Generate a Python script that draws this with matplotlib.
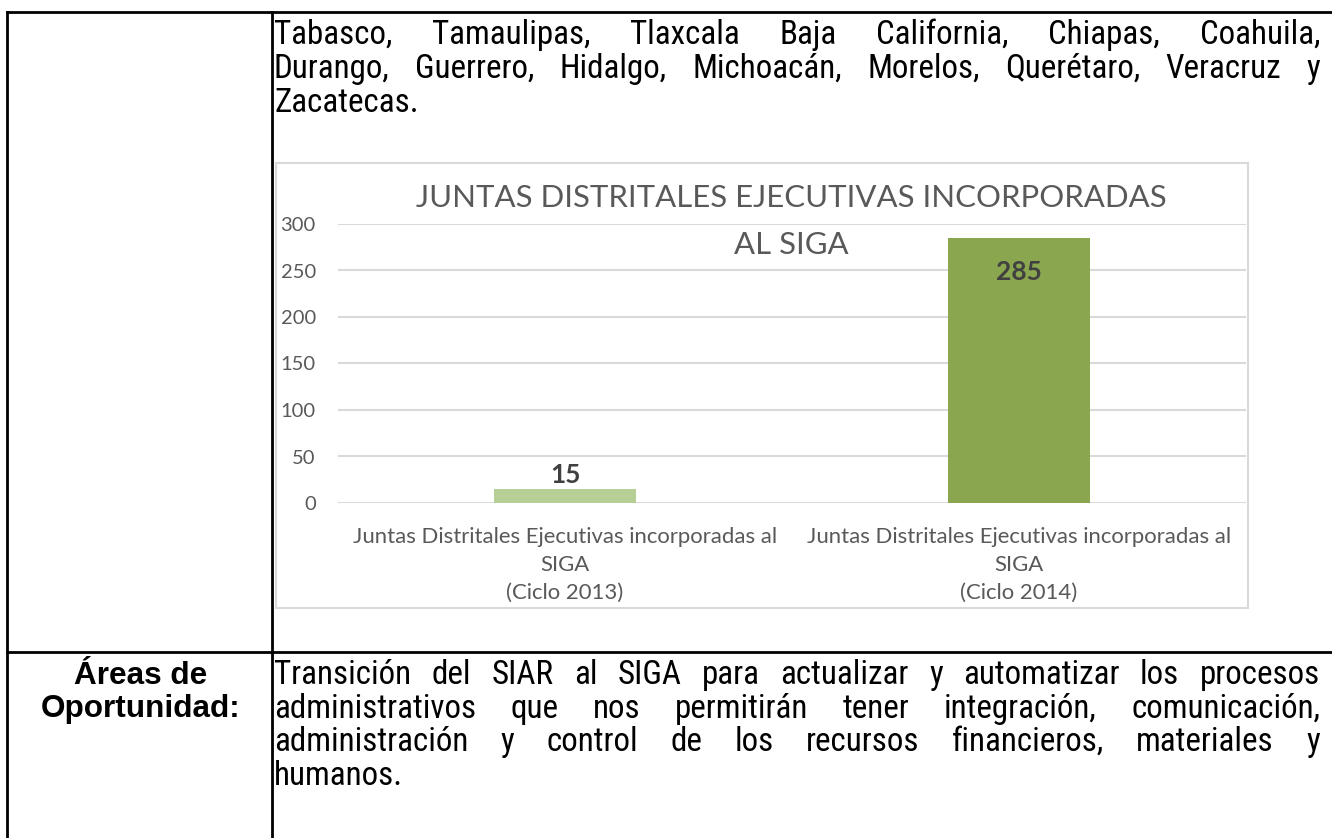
import matplotlib
matplotlib.use('Agg')
import matplotlib.pyplot as plt
from matplotlib import font_manager
from matplotlib.patches import Rectangle
from matplotlib.lines import Line2D

# text of the document table
top_lines = ['Tabasco, Tamaulipas, Tlaxcala Baja California, Chiapas, Coahuila,',
             'Durango, Guerrero, Hidalgo, Michoacán, Morelos, Querétaro, Veracruz y',
             'Zacatecas.']
side_label = ['Áreas de', 'Oportunidad:']
bottom_lines = ['Transición del SIAR al SIGA para actualizar y automatizar los procesos',
                'administrativos que nos permitirán tener integración, comunicación,',
                'administración y control de los recursos financieros, materiales y',
                'humanos.']

# chart data
title_lines = ['JUNTAS DISTRITALES EJECUTIVAS INCORPORADAS', 'AL SIGA']
categories = ['Juntas Distritales Ejecutivas incorporadas al\nSIGA\n(Ciclo 2013)',
              'Juntas Distritales Ejecutivas incorporadas al\nSIGA\n(Ciclo 2014)']
values = [15, 285]
bar_colors = ['#b6cf94', '#8aa64f']
yticks = [0, 50, 100, 150, 200, 250, 300]

W, H = 1332, 838


def has_font(name):
    try:
        font_manager.findfont(font_manager.FontProperties(family=name), fallback_to_default=False)
        return True
    except Exception:
        return False


label_font = 'Liberation Sans'
narrow = [f for f in ['Liberation Sans Narrow', 'Roboto Condensed'] if has_font(f)]
body_font = narrow[0] if narrow else 'Liberation Sans'
chart_font = 'Lato'

fig = plt.figure(figsize=(W / 100, H / 100), dpi=100)
renderer = fig.canvas.get_renderer()


def fx(x):
    return x / W


def fy(y):
    return 1 - y / H


def text_width(s, **kw):
    t = fig.text(0, 0, s, **kw)
    w = t.get_window_extent(renderer).width
    t.remove()
    return w


def draw_line(line, y, x0, x1, justify, **kw):
    words = line.split()
    if not justify or len(words) < 2:
        fig.text(fx(x0), fy(y), line, ha='left', va='baseline', **kw)
        return
    widths = [text_width(w, **kw) for w in words]
    gap = (x1 - x0 - sum(widths)) / (len(words) - 1)
    x = x0
    for w, wd in zip(words, widths):
        fig.text(fx(x), fy(y), w, ha='left', va='baseline', **kw)
        x += wd + gap


# side label size from the width of the tightest line in a regular-width face
base = text_width(top_lines[1], family=label_font, fontsize=20)
label_size = 20 * 1010 / base
body_size = label_size * 1.05 if narrow else label_size * 0.96
body_kw = dict(family=body_font, fontsize=body_size, color='black')

# table borders
for (xa, ya, xb, yb) in [(7, 12, W, 12), (7, 12, 7, H), (272, 12, 272, H), (7, 652, W, 652)]:
    fig.add_artist(Line2D([fx(xa), fx(xb)], [fy(ya), fy(yb)], color='black', lw=2))

# paragraph above the chart
for i, line in enumerate(top_lines):
    draw_line(line, 44 + 34 * i, 274, 1320, i < len(top_lines) - 1, **body_kw)

# paragraph in lower row
for i, line in enumerate(bottom_lines):
    draw_line(line, 684 + 33.5 * i, 274, 1320, i < len(bottom_lines) - 1, **body_kw)

for i, s in enumerate(side_label):
    fig.text(fx(141), fy(684 + 33 * i), s, ha='center', va='baseline',
             family=label_font, fontweight='bold', fontsize=label_size, color='black')

# chart frame
fig.add_artist(Rectangle((fx(276), fy(608)), fx(1248 - 276), (608 - 163) / H,
                         transform=fig.transFigure, facecolor='white',
                         edgecolor='#d9d9d9', lw=1.5, zorder=0))

ax = fig.add_axes([fx(338), fy(503), fx(1246 - 338), (503 - 224) / H])
ax.set_facecolor('none')
x = list(range(len(categories)))
ax.bar(x, values, width=0.314, color=bar_colors, zorder=2)
ax.set_xlim(-0.5, len(categories) - 0.5)
ax.set_ylim(0, 300)
ax.set_yticks(yticks)
ax.yaxis.grid(True, color='#d9d9d9', lw=1.5, zorder=0)
ax.set_axisbelow(True)
for s in ax.spines.values():
    s.set_visible(False)
ax.tick_params(axis='both', length=0)
ax.tick_params(axis='y', pad=16, labelsize=14.5, labelcolor='#595959')
for lab in ax.get_yticklabels():
    lab.set_family(chart_font)
ax.set_xticks(x)
ax.set_xticklabels(categories, family=chart_font, fontsize=15.9, color='#595959',
                   linespacing=1.5)
ax.tick_params(axis='x', pad=17)

# data labels: small bar above, tall bar inside end
ax.annotate(str(values[0]), (x[0], values[0]), xytext=(0, 1.5), textcoords='offset points',
            ha='center', va='bottom', family=chart_font, fontweight='bold', fontsize=19,
            color='#404040')
ax.annotate(str(values[1]), (x[1], values[1]), xytext=(0, -16), textcoords='offset points',
            ha='center', va='top', family=chart_font, fontweight='bold', fontsize=19,
            color='#404040')

for i, s in enumerate(title_lines):
    fig.text(fx(791), fy(207 + 47 * i), s, ha='center', va='baseline', family=chart_font,
             fontsize=22.4, color='#595959')

fig.savefig('out.png', dpi=100)
